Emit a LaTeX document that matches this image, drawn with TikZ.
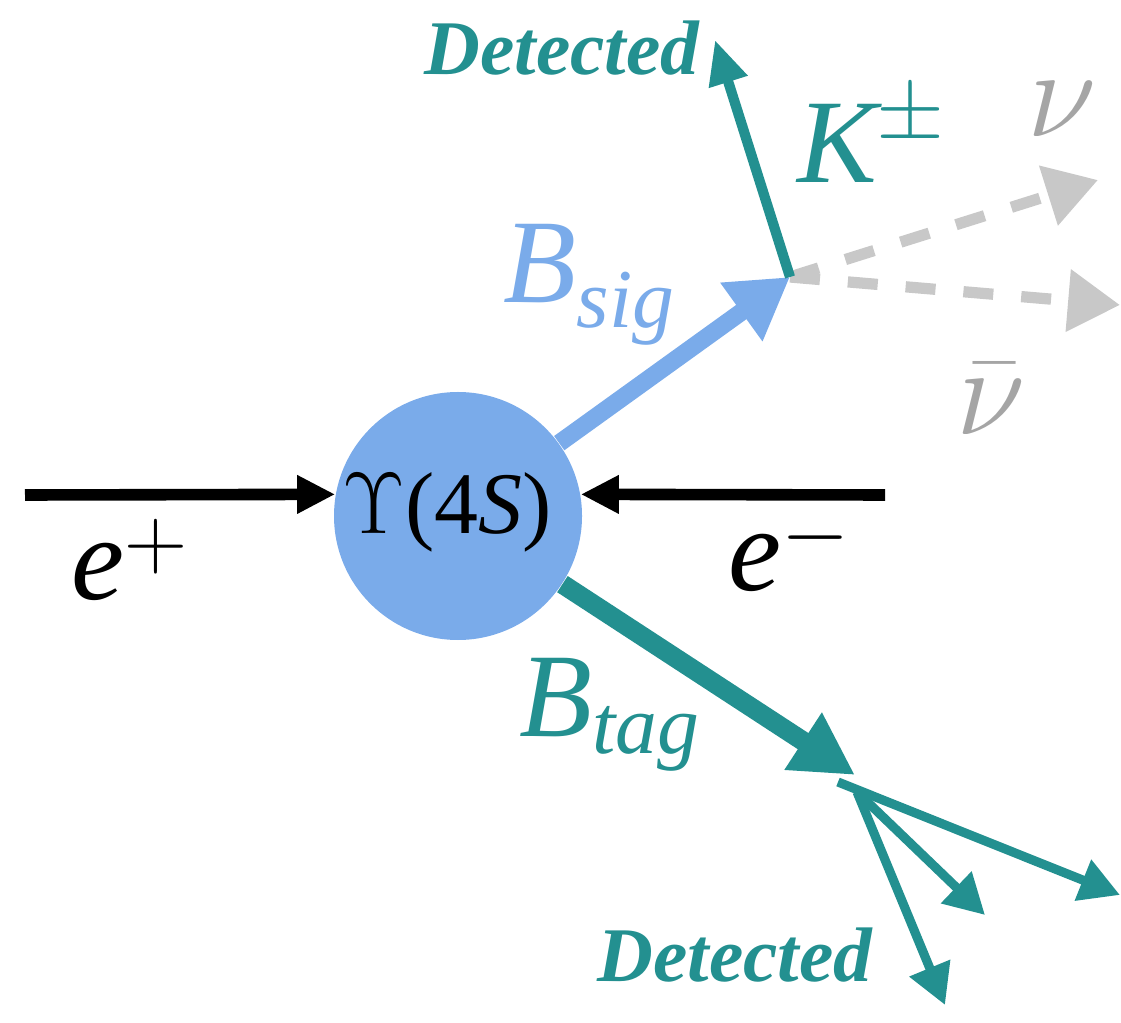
\documentclass[tikz,border=0pt]{standalone}
\usepackage{fontspec}
\usepackage{amsmath}
\setmainfont{Liberation Serif}
\usetikzlibrary{arrows.meta,positioning,calc}
\definecolor{sigblue}{RGB}{122,171,234}
\definecolor{tagteal}{RGB}{35,144,144}
\definecolor{nugray}{RGB}{200,200,200}
\definecolor{nutext}{RGB}{165,165,165}
\tikzset{
  beam/.style={line width=3.3pt,-{Triangle[length=0.38cm,width=0.36cm]}},
  sigarrow/.style={sigblue,line width=5pt,-{Triangle[length=0.6cm,width=0.68cm]}},
  tagarrow/.style={tagteal,line width=5.5pt,-{Triangle[length=0.62cm,width=0.64cm]}},
  trk/.style={tagteal,line width=2.6pt,-{Triangle[length=0.4cm,width=0.42cm]}},
  ktrk/.style={tagteal,line width=2.9pt,-{Triangle[length=0.44cm,width=0.38cm]}},
  nuarrow/.style={nugray,line width=3.2pt,dash pattern=on 0.3cm off 0.28cm,-{Triangle[length=0.52cm,width=0.6cm]}},
  lbl/.style={font=\fontsize{34}{40}\selectfont},
  nulabel/.style={text=nutext,font=\fontsize{24.88}{30}\selectfont,scale=1.45},
  det/.style={text=tagteal,font=\fontsize{22}{26}\selectfont\bfseries\itshape},
}

\begin{document}
\begin{tikzpicture}
  \useasboundingbox (0,0) rectangle (11.21,-10.23);
  \node[circle,fill=sigblue,minimum size=2.48cm,inner sep=0pt] (ups) at (4.58,-5.16) {};
  \node[font=\fontsize{25}{29}\selectfont] (upslbl) at (4.47,-5.12) {$\Upsilon$(4\textit{S})};

  \coordinate (eplus) at (0.25,-4.95);
  \coordinate (eminus) at (8.85,-4.95);
  \coordinate (sigvtx) at (7.9,-2.77);
  \coordinate (kend) at (7.15,-0.4);
  \coordinate (nuend) at (10.98,-1.8);
  \coordinate (nubarend) at (11.2,-3.05);
  \coordinate (tagvtx) at (8.55,-7.75);
  \coordinate (tagsplit) at (8.57,-7.92);
  \coordinate (tagsplitr) at (8.38,-7.82);
  \coordinate (trkr) at (11.2,-8.95);
  \coordinate (trkm) at (9.85,-9.15);
  \coordinate (trkd) at (9.45,-10.05);

  \draw[beam] (eplus) -- (ups.170);
  \draw[beam] (eminus) -- (ups.10);
  \draw[nuarrow] (sigvtx) -- (nuend);
  \draw[nuarrow] (sigvtx) -- (nubarend);
  \draw[sigarrow] (ups) -- (sigvtx);
  \draw[ktrk] (sigvtx) -- (kend);
  \draw[tagarrow] (ups) -- (tagvtx);
  \draw[trk] (tagsplitr) -- (trkr);
  \draw[trk] (tagsplit) -- (trkm);
  \draw[trk] (tagsplit) -- (trkd);

  \node[lbl] (ep) at (1.3,-5.6) {$\textit{e}^{+}$};
  \node[lbl] (em) at (7.9,-5.5) {$\textit{e}^{-}$};
  \node[lbl,text=sigblue] (bsig) at (5.9,-2.85) {$\textit{B}_{\textit{sig}}$};
  \node[lbl,text=tagteal] (btag) at (6.1,-7.15) {$\textit{B}_{\textit{tag}}$};
  \node[lbl,text=tagteal] (klbl) at (8.72,-1.35) {$\textit{K}^{\pm}$};
  \node[nulabel] (nulbl) at (10.62,-1.09) {$\nu$};
  \node[nulabel] (nubarlbl) at (9.91,-3.99) {$\bar{\nu}$};
  \node[det] (dettop) at (5.62,-0.48) {Detected};
  \node[det] (detbot) at (7.35,-9.55) {Detected};
\end{tikzpicture}
\end{document}
